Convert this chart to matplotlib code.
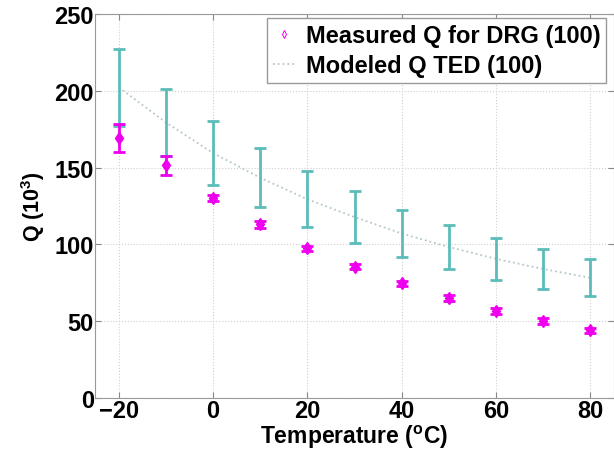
import numpy as np
import matplotlib
matplotlib.use('Agg')
import matplotlib.pyplot as plt

plt.rcParams['font.family'] = ['Liberation Sans', 'DejaVu Sans']
plt.rcParams['font.weight'] = 'bold'

temps = [-20, -10, 0, 10, 20, 30, 40, 50, 60, 70, 80]

# measured Q (x10^3) and its error
q_meas = [169.5, 151.5, 130.2, 113.0, 97.4, 85.5, 74.7, 65.2, 56.8, 50.3, 44.2]
q_meas_err = [9.0, 6.2, 2.2, 2.5, 1.8, 1.8, 1.5, 1.8, 1.8, 1.8, 1.6]

# modeled Q TED (x10^3) and its error
q_model = [202.3, 179.4, 159.5, 143.4, 129.4, 117.8, 107.1, 98.3, 90.6, 84.0, 78.2]
q_model_err = [25.0, 21.6, 20.7, 19.2, 18.2, 16.8, 15.3, 14.3, 13.7, 12.8, 12.0]

teal = '#5cbcb9'
magenta = '#ee00ee'

fig = plt.figure(figsize=(6.14, 4.56), dpi=100)
ax = fig.add_axes([0.155, 0.125, 0.845, 0.842])

ax.errorbar(temps, q_model, yerr=q_model_err, fmt='none', ecolor=teal,
            elinewidth=2, capsize=4, capthick=2, zorder=2)
ax.errorbar(temps, q_meas, yerr=q_meas_err, fmt='none', ecolor=magenta,
            elinewidth=2, capsize=4, capthick=2, zorder=3)
ax.plot(temps, q_meas, 'd', color=magenta, ms=6, zorder=4)

l1, = ax.plot([], [], 'd', mfc='none', mec=magenta, ms=4, mew=0.7)
l2, = ax.plot(temps, q_model, ':', color='#b4c8c8', lw=1.3, zorder=1)

ax.set_xlim(-25, 85)
ax.set_ylim(0, 250)
ax.set_xticks([-20, 0, 20, 40, 60, 80])
ax.set_yticks([0, 50, 100, 150, 200, 250])
ax.tick_params(direction='in', top=True, right=True, labelsize=17,
               length=4, color='#888888', pad=1)
for s in ax.spines.values():
    s.set_color('#999999')
ax.grid(True, ls=':', color='#d0d0d0', lw=0.8)

ax.set_xlabel('Temperature ($\\mathregular{^o}$C)', fontsize=16.5, fontweight='bold', labelpad=0)
ax.set_ylabel('Q (10$^\\mathregular{3}$)', fontsize=15.5, fontweight='bold', labelpad=5)

leg = ax.legend([l1, l2], ['Measured Q for DRG (100)', 'Modeled Q TED (100)'],
                loc='upper right', fontsize=17, fancybox=False, framealpha=1,
                edgecolor='#999999', borderpad=0.25, handlelength=1.0,
                handletextpad=0.4, borderaxespad=0.0, labelspacing=0.3,
                bbox_to_anchor=(0.985, 0.99))

fig.savefig('out.png', dpi=100)
